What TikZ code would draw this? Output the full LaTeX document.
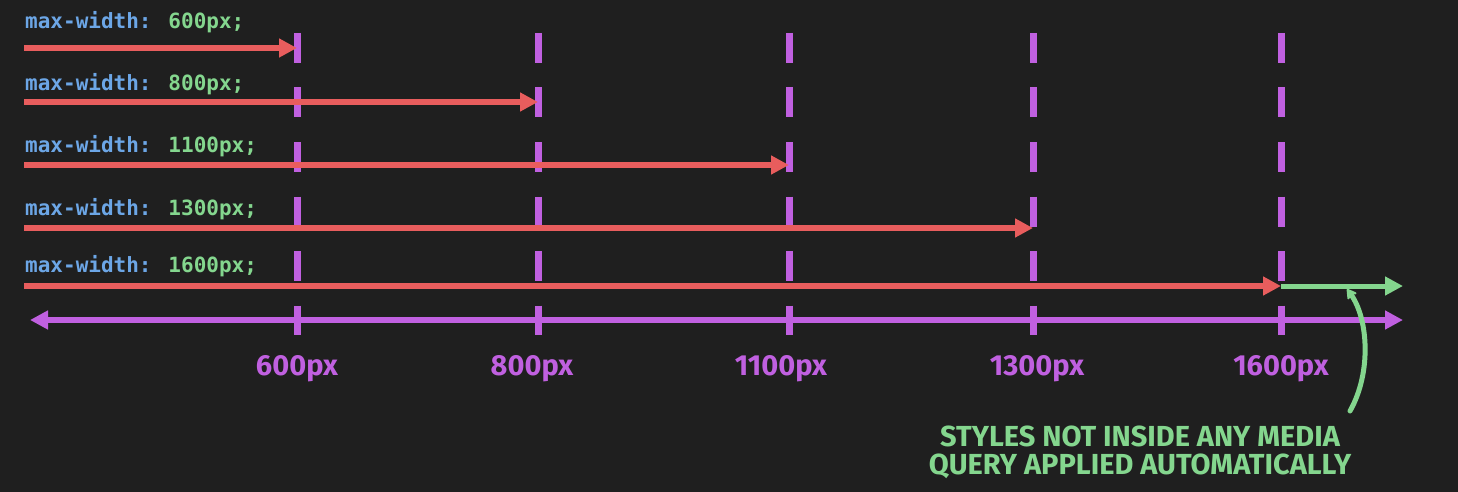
\documentclass[tikz,border=0pt]{standalone}
\usepackage{fontspec}
\usepackage{tikz}
\usetikzlibrary{arrows.meta}
\newfontfamily\codefont{DejaVu Sans Mono}
\newfontfamily\handfont{Fira Sans}
\definecolor{bgdark}{HTML}{1F1F1F}
\definecolor{mqred}{HTML}{E85D5D}
\definecolor{mqpurple}{HTML}{C060E0}
\definecolor{mqgreen}{HTML}{84D68E}
\definecolor{mqblue}{HTML}{6CA6E6}
\tikzset{
  mqarrow/.style = {draw=#1,line width=6pt,-{Triangle[length=18pt,width=18pt]}},
  breakline/.style = {draw=mqpurple,line width=7pt,dash pattern=on 30pt off 24.5pt},
  querytext/.style = {anchor=west,inner sep=0pt,font=\codefont\bfseries\fontsize{21}{21}\selectfont},
  ticktext/.style = {inner sep=0pt,text=mqpurple,font=\handfont\bfseries\fontsize{29}{29}\selectfont},
  notetext/.style = {inner sep=0pt,align=center,text=mqgreen,font=\handfont\bfseries\fontsize{29}{28}\selectfont}
}

\begin{document}
\begin{tikzpicture}[x=1pt,y=-1pt]
\useasboundingbox[fill=bgdark] (0,0) rectangle (1458,492);

% breakpoints on the axis
\foreach \w/\x/\lx in {600/297/297,800/538/532,1100/789/781,1300/1033/1037,1600/1281/1281}{
  \coordinate (top\w) at (\x,33);
  \coordinate (bot\w) at (\x,335);
  \draw[breakline] (top\w) -- (bot\w);
  \node[ticktext] (tick\w) at (\lx,369) {\w px};
}

% one arrow per media query
\foreach \w/\x/\ty/\ay in {600/297/22/48,800/538/84/102,1100/789/146/165,1300/1033/209/228,1600/1281/266/286}{
  \node[querytext] (q\w) at (25,\ty) {\textcolor{mqblue}{max-width:} \textcolor{mqgreen}{\w px;}};
  \coordinate (from\w) at (24,\ay);
  \coordinate (to\w) at (\x,\ay);
  \draw[mqarrow=mqred] (from\w) -- (to\w);
}

% axis
\coordinate (axisl) at (30,320);
\coordinate (axisr) at (1403,320);
\draw[mqarrow=mqpurple,{Triangle[length=18pt,width=18pt]}-{Triangle[length=18pt,width=18pt]}] (axisl) -- (axisr);

% beyond the last breakpoint
\coordinate (greenend) at (1403,286);
\draw[mqarrow=mqgreen,line width=5pt] (to1600) -- (greenend);

\node[notetext] (note) at (1140,452) {STYLES NOT INSIDE ANY MEDIA\\QUERY APPLIED AUTOMATICALLY};
\coordinate (curvefrom) at (1350,411);
\coordinate (curveto) at (1347,289);
\draw[draw=mqgreen,line width=5pt,line cap=round,-{Stealth[length=12pt,width=14pt,round]}]
  (curvefrom) .. controls (1372,372) and (1368,318) .. (curveto);
\end{tikzpicture}
\end{document}
